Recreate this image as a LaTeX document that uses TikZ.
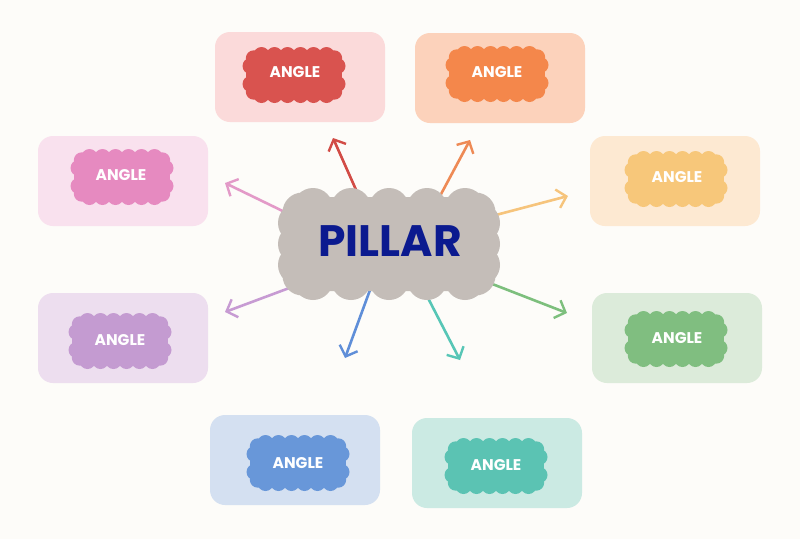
\documentclass[tikz,border=0pt]{standalone}
\usepackage{fontspec}
\newfontfamily\popfont{Poppins}
\usetikzlibrary{arrows.meta}
\definecolor{bgc}{HTML}{FDFCF9}
\definecolor{pillargrey}{HTML}{C4BDB8}
\definecolor{navy}{HTML}{0B1A8F}
\definecolor{bRed}{HTML}{FBDADA}\definecolor{cRed}{HTML}{D9534F}\definecolor{aRed}{HTML}{D24C46}
\definecolor{bOra}{HTML}{FCD2BB}\definecolor{cOra}{HTML}{F4874B}\definecolor{aOra}{HTML}{EE8A55}
\definecolor{bPin}{HTML}{F9E1EE}\definecolor{cPin}{HTML}{E68AC0}\definecolor{aPin}{HTML}{E39AC8}
\definecolor{bYel}{HTML}{FDE9D2}\definecolor{cYel}{HTML}{F7C77A}\definecolor{aYel}{HTML}{F6C47C}
\definecolor{bPur}{HTML}{EDDEEF}\definecolor{cPur}{HTML}{C49BD1}\definecolor{aPur}{HTML}{C79BD3}
\definecolor{bGre}{HTML}{DCEBDA}\definecolor{cGre}{HTML}{80BE80}\definecolor{aGre}{HTML}{7DBF7D}
\definecolor{bBlu}{HTML}{D4E0F1}\definecolor{cBlu}{HTML}{6897D9}\definecolor{aBlu}{HTML}{5F8ED8}
\definecolor{bTea}{HTML}{CBEAE3}\definecolor{cTea}{HTML}{5BC3B3}\definecolor{aTea}{HTML}{57C6B6}
% scalloped cloud: cx cy outerW outerH r nx ny inset colour
\newcommand\cloudy[9]{%
  \pgfmathsetmacro\cdd{0.45*#5}%
  \pgfmathsetmacro\crr{#5+#8}%
  \pgfmathsetmacro\ccc{#5+0.3*#8}%
  \fill[#9, rounded corners=\crr pt] ({#1-#3/2+\cdd},{#2-#4/2+\cdd}) rectangle ({#1+#3/2-\cdd},{#2+#4/2-\cdd});
  \foreach \i in {0,...,#6}{%
    \fill[#9] ({#1-#3/2+#5+#8+\i*(#3-2*#5-2*#8)/#6},{#2-#4/2+#5}) circle[radius=#5pt];
    \fill[#9] ({#1-#3/2+#5+#8+\i*(#3-2*#5-2*#8)/#6},{#2+#4/2-#5}) circle[radius=#5pt];}
  \foreach \j in {0,...,#7}{%
    \fill[#9] ({#1-#3/2+#5},{#2-#4/2+#5+#8+\j*(#4-2*#5-2*#8)/#7}) circle[radius=#5pt];
    \fill[#9] ({#1+#3/2-#5},{#2-#4/2+#5+#8+\j*(#4-2*#5-2*#8)/#7}) circle[radius=#5pt];}
  \foreach \sx/\sy in {-1/-1,1/-1,-1/1,1/1}{%
    \fill[#9] ({#1+\sx*(#3/2-\ccc)},{#2+\sy*(#4/2-\ccc)}) circle[radius=#5pt];}
}
\tikzset{
  box/.style={rounded corners=15pt, minimum width=170pt, minimum height=90pt, inner sep=0pt},
  angtxt/.style={text=white, font=\popfont\bfseries\fontsize{15.5}{17}\selectfont, inner sep=0pt},
  arr/.style={line width=2.6pt, line cap=round, -{Straight Barb[length=9pt,width=19pt,line width=2.4pt]}}
}
\begin{document}
\begin{tikzpicture}[x=1pt,y=-1pt]
\fill[bgc] (0,0) rectangle (800,539);
\useasboundingbox (0,0) rectangle (800,539);
% boxes
\node[box, fill=bRed] (box1) at (300,77) {};
\node[box, fill=bOra] (box2) at (500,78) {};
\node[box, fill=bPin] (box3) at (123,181) {};
\node[box, fill=bYel] (box4) at (675,181) {};
\node[box, fill=bPur] (box5) at (123,338) {};
\node[box, fill=bGre] (box6) at (677,338) {};
\node[box, fill=bBlu] (box7) at (295,460) {};
\node[box, fill=bTea] (box8) at (497,463) {};
% small clouds
\cloudy{294}{75}{103}{56}{8}{5}{1}{11}{cRed}
\cloudy{497}{74}{103}{56}{8}{5}{1}{11}{cOra}
\cloudy{122}{177}{103}{56}{8}{5}{1}{11}{cPin}
\cloudy{676}{179}{103}{56}{8}{5}{1}{11}{cYel}
\cloudy{120}{341}{103}{56}{8}{5}{1}{11}{cPur}
\cloudy{676}{339}{103}{56}{8}{5}{1}{11}{cGre}
\cloudy{298}{463}{103}{56}{8}{5}{1}{11}{cBlu}
\cloudy{496}{466}{103}{56}{8}{5}{1}{11}{cTea}
% labels
\node[angtxt] (ang1) at (295,72) {ANGLE};
\node[angtxt] (ang2) at (497,72) {ANGLE};
\node[angtxt] (ang3) at (121,175) {ANGLE};
\node[angtxt] (ang4) at (677,177) {ANGLE};
\node[angtxt] (ang5) at (120,340) {ANGLE};
\node[angtxt] (ang6) at (677,338) {ANGLE};
\node[angtxt] (ang7) at (298,463) {ANGLE};
\node[angtxt] (ang8) at (496,465) {ANGLE};
% arrow coordinates
\coordinate (s1) at (357,192); \coordinate (e1) at (333,138);
\coordinate (s2) at (440,196); \coordinate (e2) at (470,140);
\coordinate (s3) at (295,217); \coordinate (e3) at (225,183);
\coordinate (s4) at (492,216); \coordinate (e4) at (568,196);
\coordinate (s5) at (300,284); \coordinate (e5) at (225,312);
\coordinate (s6) at (482,280); \coordinate (e6) at (567,313);
\coordinate (s7) at (370,290); \coordinate (e7) at (345,358);
\coordinate (s8) at (428,298); \coordinate (e8) at (460,360);
\draw[arr, aRed] (s1) -- (e1);
\draw[arr, aOra] (s2) -- (e2);
\draw[arr, aPin] (s3) -- (e3);
\draw[arr, aYel] (s4) -- (e4);
\draw[arr, aPur] (s5) -- (e5);
\draw[arr, aGre] (s6) -- (e6);
\draw[arr, aBlu] (s7) -- (e7);
\draw[arr, aTea] (s8) -- (e8);
% central cloud
\cloudy{389}{244}{222}{112}{20}{4}{2}{15}{pillargrey}
\node[text=navy, font=\popfont\bfseries\fontsize{44}{48}\selectfont, inner sep=0pt] (pillar) at (390,241) {PILLAR};
\end{tikzpicture}
\end{document}
